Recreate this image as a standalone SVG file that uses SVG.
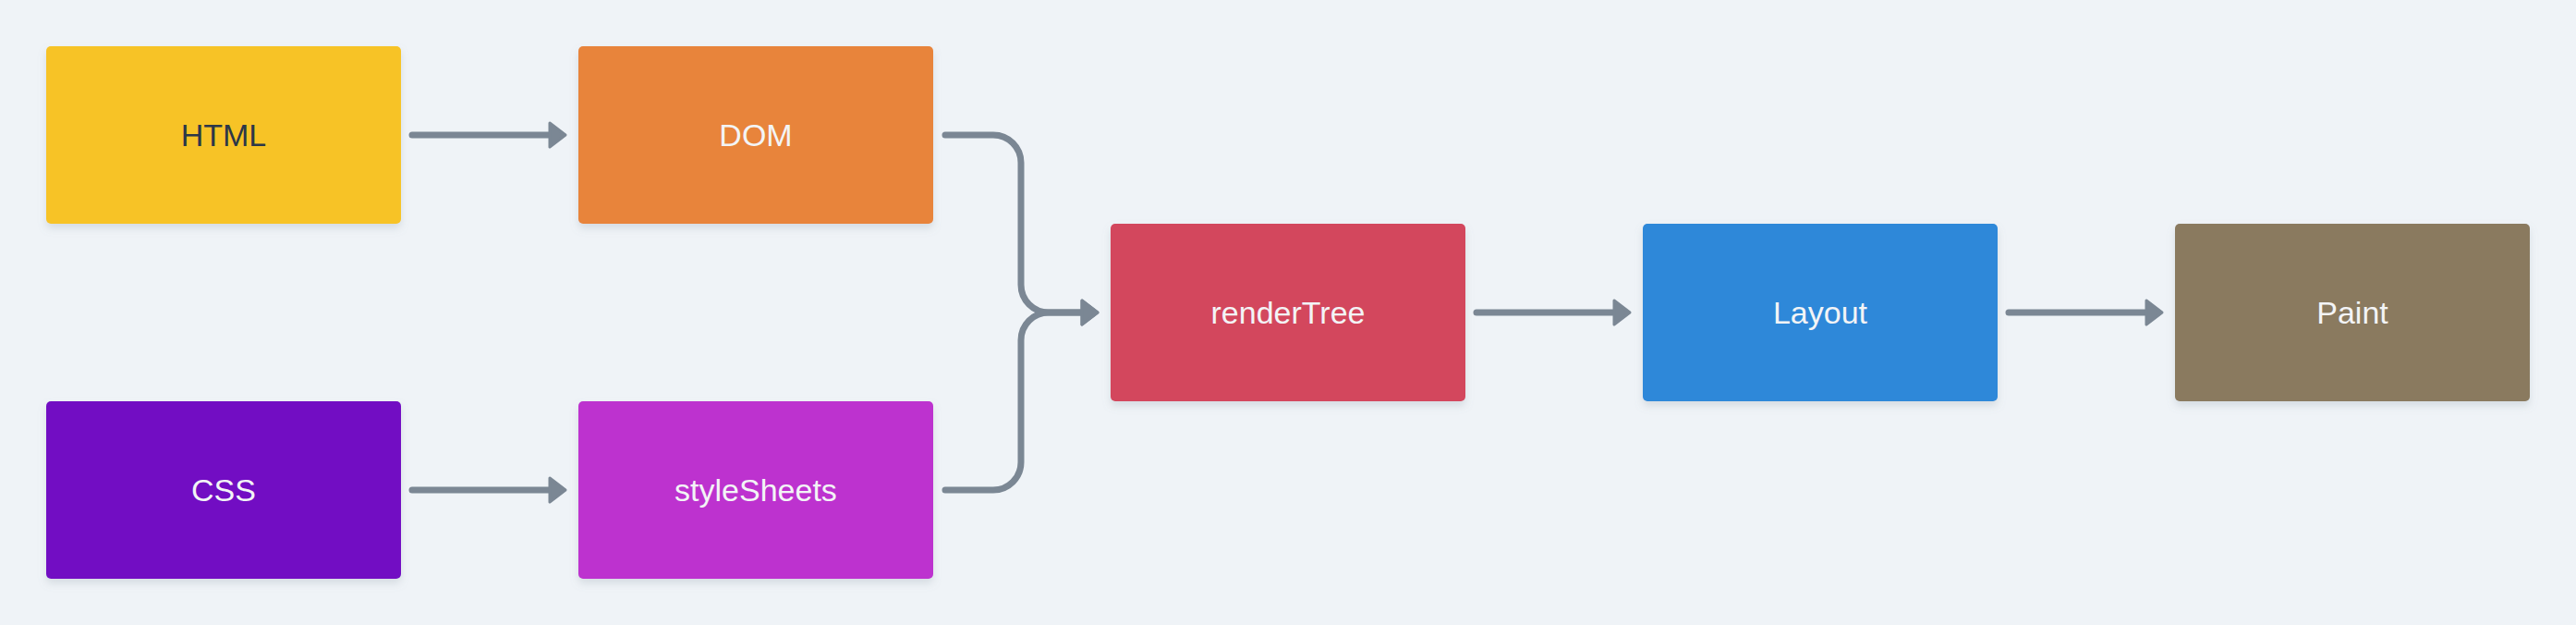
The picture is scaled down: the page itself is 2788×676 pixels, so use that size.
<svg xmlns="http://www.w3.org/2000/svg" width="2788" height="676" viewBox="0 0 2788 676">
<style>
.box{filter:url(#sh)}
.lbl{font-family:"Liberation Sans",Arial,sans-serif;font-size:34px;text-anchor:middle;fill:#f3f4f6}
.dark{fill:#2d3748}
.con{fill:none;stroke:#7b8794;stroke-width:7;stroke-linecap:round;stroke-linejoin:round;marker-end:url(#ah)}
</style>
<defs>
<filter id="sh" x="-10%" y="-10%" width="120%" height="130%">
<feDropShadow dx="0" dy="5" stdDeviation="4" flood-color="#8a96a3" flood-opacity="0.25"/>
</filter>
<marker id="ah" markerUnits="userSpaceOnUse" markerWidth="24" markerHeight="32" viewBox="0 0 24 32" refX="10" refY="16" orient="auto">
<path d="M3,3 L20,16 L3,29 Z" fill="#7b8794" stroke="#7b8794" stroke-width="3" stroke-linejoin="round"/>
</marker>
</defs>
<rect width="2788" height="676" fill="#eff3f7"/>
<g id="connectors">
<path class="con" d="M446,146 H602"/>
<path class="con" d="M446,530 H602"/>
<path class="con" d="M1023,146 H1075 A30,30 0 0 1 1105,176 V308 A30,30 0 0 0 1135,338 H1178"/>
<path class="con" d="M1023,530 H1075 A30,30 0 0 0 1105,500 V368 A30,30 0 0 1 1135,338 H1178"/>
<path class="con" d="M1598,338 H1754"/>
<path class="con" d="M2174,338 H2330"/>
</g>
<g id="HTML"><rect class="box" x="50" y="50" width="384" height="192" rx="5" fill="#f7c325"/><text class="lbl dark" x="242" y="158">HTML</text></g>
<g id="DOM"><rect class="box" x="626" y="50" width="384" height="192" rx="5" fill="#e8843b"/><text class="lbl" x="818" y="158">DOM</text></g>
<g id="CSS"><rect class="box" x="50" y="434" width="384" height="192" rx="5" fill="#7211c3"/><text class="lbl" x="242" y="542">CSS</text></g>
<g id="styleSheets"><rect class="box" x="626" y="434" width="384" height="192" rx="5" fill="#bd33cf"/><text class="lbl" x="818" y="542">styleSheets</text></g>
<g id="renderTree"><rect class="box" x="1202" y="242" width="384" height="192" rx="5" fill="#d3465d"/><text class="lbl" x="1394" y="350">renderTree</text></g>
<g id="Layout"><rect class="box" x="1778" y="242" width="384" height="192" rx="5" fill="#2d88d9"/><text class="lbl" x="1970" y="350">Layout</text></g>
<g id="Paint"><rect class="box" x="2354" y="242" width="384" height="192" rx="5" fill="#8a7a5f"/><text class="lbl" x="2546" y="350">Paint</text></g>
</svg>
